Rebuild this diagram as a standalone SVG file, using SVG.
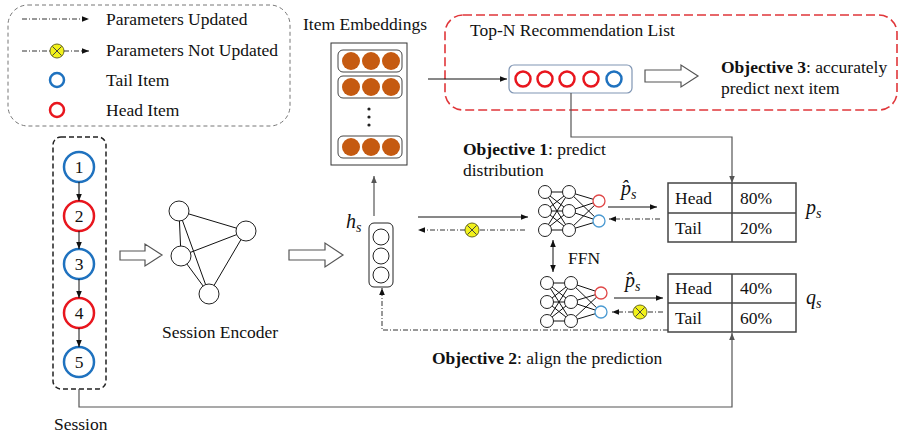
<svg xmlns="http://www.w3.org/2000/svg" width="901" height="436" viewBox="0 0 901 436">
<defs>
<marker id="ah" viewBox="0 0 10 10" refX="10" refY="5" markerWidth="7" markerHeight="7" markerUnits="userSpaceOnUse" orient="auto-start-reverse"><path d="M0,1 L10,5 L0,9 z" fill="#111"/></marker>
<marker id="ahg" viewBox="0 0 10 10" refX="10" refY="5" markerWidth="7" markerHeight="7" markerUnits="userSpaceOnUse" orient="auto-start-reverse"><path d="M0,1 L10,5 L0,9 z" fill="#555"/></marker>
<g id="xc"><circle r="7" fill="#F2F21A" stroke="#6b6b20" stroke-width="1"/><path d="M-4.5,-4.5 L4.5,4.5 M4.5,-4.5 L-4.5,4.5" stroke="#444" stroke-width="1"/></g>
</defs>
<style>
.t{font-family:"Liberation Serif","Times New Roman",serif;font-size:17.5px;fill:#111}
.b{font-weight:bold}
.m{font-family:"Liberation Serif","DejaVu Serif",serif;font-style:italic;font-size:20px;fill:#111}
.sub{font-size:14px}
.ln{stroke:#111;stroke-width:1;fill:none}
.lg{stroke:#555;stroke-width:1.2;fill:none}
.dd{stroke:#333;stroke-width:1;fill:none;stroke-dasharray:5 2 1 2}
.blue{fill:none;stroke:#1F72BF;stroke-width:2.5}
.red{fill:none;stroke:#E8161E;stroke-width:2.5}
.nn{fill:#fff;stroke:#222;stroke-width:1}
.nr{fill:#fff;stroke:#E04848;stroke-width:1.3}
.nb{fill:#fff;stroke:#4A9AD2;stroke-width:1.3}
.emb{fill:#C55A11}
.row{fill:#fff;stroke:#444;stroke-width:1}
.hollow{fill:#fff;stroke:#555;stroke-width:1.2}
.tb{fill:#fff;stroke:#444;stroke-width:1.5}
</style>

<!-- Legend -->
<g id="legend">
<rect x="8" y="5" width="282" height="121" rx="20" fill="none" stroke="#777" stroke-width="1" stroke-dasharray="4 3"/>
<line x1="22" y1="19" x2="89" y2="19" class="dd" marker-end="url(#ah)"/>
<text x="106" y="25" class="t">Parameters Updated</text>
<line x1="22" y1="51" x2="50" y2="51" class="dd"/>
<use href="#xc" x="57" y="51"/>
<line x1="64" y1="51" x2="89" y2="51" class="dd" marker-end="url(#ah)"/>
<text x="106" y="56" class="t">Parameters Not Updated</text>
<circle cx="57" cy="80" r="7" class="blue"/>
<text x="106" y="86" class="t">Tail Item</text>
<circle cx="57" cy="110" r="7" class="red"/>
<text x="106" y="116" class="t">Head Item</text>
</g>

<!-- Session -->
<g id="session">
<rect x="53" y="137" width="53" height="252" rx="8" fill="none" stroke="#222" stroke-width="1.5" stroke-dasharray="5 3"/>
<circle cx="79" cy="167" r="15" class="blue"/>
<circle cx="79" cy="216" r="15" class="red"/>
<circle cx="79" cy="264" r="15" class="blue"/>
<circle cx="79" cy="313" r="15" class="red"/>
<circle cx="79" cy="362" r="15" class="blue"/>
<text x="79" y="173" class="t" text-anchor="middle">1</text>
<text x="79" y="222" class="t" text-anchor="middle">2</text>
<text x="79" y="270" class="t" text-anchor="middle">3</text>
<text x="79" y="319" class="t" text-anchor="middle">4</text>
<text x="79" y="368" class="t" text-anchor="middle">5</text>
<line x1="79" y1="182" x2="79" y2="201" class="ln" marker-end="url(#ah)"/>
<line x1="79" y1="231" x2="79" y2="249" class="ln" marker-end="url(#ah)"/>
<line x1="79" y1="279" x2="79" y2="298" class="ln" marker-end="url(#ah)"/>
<line x1="79" y1="328" x2="79" y2="347" class="ln" marker-end="url(#ah)"/>
<text x="54" y="430" class="t">Session</text>
</g>

<!-- Session encoder -->
<g id="encoder">
<path d="M120,251 H145 V244 L162,255 L145,266 V260 H120 Z" class="hollow"/>
<g class="ln" stroke="#333">
<line x1="179" y1="211" x2="246" y2="231"/>
<line x1="179" y1="211" x2="181" y2="256"/>
<line x1="179" y1="211" x2="209" y2="294"/>
<line x1="181" y1="256" x2="246" y2="231"/>
<line x1="181" y1="256" x2="209" y2="294"/>
<line x1="246" y1="231" x2="209" y2="294"/>
</g>
<circle cx="179" cy="211" r="10" class="nn"/>
<circle cx="246" cy="231" r="10" class="nn"/>
<circle cx="181" cy="256" r="10" class="nn"/>
<circle cx="209" cy="294" r="10" class="nn"/>
<text x="162" y="338" class="t">Session Encoder</text>
</g>

<!-- h_s -->
<g id="hs">
<path d="M289,250 H325 V243 L343,255 L325,267 V260 H289 Z" class="hollow"/>
<rect x="369" y="223" width="24" height="64" rx="5" fill="#fff" stroke="#222" stroke-width="1"/>
<circle cx="381" cy="237" r="8" class="nn"/>
<circle cx="381" cy="256" r="8" class="nn"/>
<circle cx="381" cy="275" r="8" class="nn"/>
<text x="346" y="228" class="m">h<tspan class="sub" dy="4">s</tspan></text>
</g>

<!-- Item embeddings -->
<g id="item-embeddings">
<text x="303" y="30" class="t">Item Embeddings</text>
<rect x="331" y="43" width="76" height="122" fill="#fff" stroke="#333" stroke-width="1"/>
<rect x="338" y="50" width="64" height="22" rx="5" class="row"/>
<rect x="338" y="76" width="64" height="22" rx="5" class="row"/>
<rect x="338" y="136" width="64" height="22" rx="5" class="row"/>
<circle cx="351" cy="61" r="9" class="emb"/><circle cx="371" cy="61" r="9" class="emb"/><circle cx="391" cy="61" r="9" class="emb"/>
<circle cx="351" cy="87" r="9" class="emb"/><circle cx="371" cy="87" r="9" class="emb"/><circle cx="391" cy="87" r="9" class="emb"/>
<circle cx="351" cy="147" r="9" class="emb"/><circle cx="371" cy="147" r="9" class="emb"/><circle cx="391" cy="147" r="9" class="emb"/>
<circle cx="369" cy="109" r="1.6" fill="#222"/><circle cx="369" cy="117" r="1.6" fill="#222"/><circle cx="369" cy="125" r="1.6" fill="#222"/>
</g>

<!-- Top-N -->
<g id="topn">
<rect x="445" y="15" width="452" height="95" rx="18" fill="none" stroke="#E0363A" stroke-width="1.6" stroke-dasharray="9 4"/>
<text x="470" y="36" class="t">Top-N Recommendation List</text>
<rect x="509" y="65" width="123" height="28" rx="5" fill="#fff" stroke="#8096B4" stroke-width="1.2"/>
<circle cx="523" cy="79" r="7.5" class="red"/>
<circle cx="545" cy="79" r="7.5" class="red"/>
<circle cx="567" cy="79" r="7.5" class="red"/>
<circle cx="591" cy="79" r="7.5" class="red"/>
<circle cx="614" cy="79" r="7.5" class="blue"/>
<path d="M645,70 H681 V65 L698,76 L681,87 V82 H645 Z" class="hollow"/>
<text x="721" y="73" class="t"><tspan class="b">Objective 3</tspan>: accurately</text>
<text x="721" y="94" class="t">predict next item</text>
</g>

<!-- FFN networks -->
<g id="ffn1">
<g class="ln" stroke="#222" stroke-width="0.9">
<path d="M545,192 L569,192 M545,192 L569,211 M545,192 L569,230 M545,211 L569,192 M545,211 L569,211 M545,211 L569,230 M545,230 L569,192 M545,230 L569,211 M545,230 L569,230"/>
<path d="M569,192 L599,201 M569,192 L599,221 M569,211 L599,201 M569,211 L599,221 M569,230 L599,201 M569,230 L599,221"/>
</g>
<circle cx="545" cy="192" r="6.5" class="nn"/><circle cx="545" cy="211" r="6.5" class="nn"/><circle cx="545" cy="230" r="6.5" class="nn"/>
<circle cx="569" cy="192" r="6.5" class="nn"/><circle cx="569" cy="211" r="6.5" class="nn"/><circle cx="569" cy="230" r="6.5" class="nn"/>
<circle cx="599" cy="201" r="6" class="nr"/><circle cx="599" cy="221" r="6" class="nb"/>
</g>
<g id="ffn2">
<g class="ln" stroke="#222" stroke-width="0.9">
<path d="M547,283 L571,283 M547,283 L571,302 M547,283 L571,321 M547,302 L571,283 M547,302 L571,302 M547,302 L571,321 M547,321 L571,283 M547,321 L571,302 M547,321 L571,321"/>
<path d="M571,283 L601,293 M571,283 L601,312 M571,302 L601,293 M571,302 L601,312 M571,321 L601,293 M571,321 L601,312"/>
</g>
<circle cx="547" cy="283" r="6.5" class="nn"/><circle cx="547" cy="302" r="6.5" class="nn"/><circle cx="547" cy="321" r="6.5" class="nn"/>
<circle cx="571" cy="283" r="6.5" class="nn"/><circle cx="571" cy="302" r="6.5" class="nn"/><circle cx="571" cy="321" r="6.5" class="nn"/>
<circle cx="601" cy="293" r="6" class="nr"/><circle cx="601" cy="312" r="6" class="nb"/>
</g>
<text x="568" y="264" class="t">FFN</text>

<!-- Tables -->
<g id="table-p">
<rect x="668" y="183" width="128" height="59" class="tb"/>
<line x1="668" y1="213" x2="796" y2="213" stroke="#444" stroke-width="1.5"/>
<line x1="732" y1="183" x2="732" y2="242" stroke="#444" stroke-width="1.5"/>
<text x="675" y="204" class="t">Head</text><text x="740" y="204" class="t">80%</text>
<text x="675" y="234" class="t">Tail</text><text x="740" y="234" class="t">20%</text>
<text x="806" y="214" class="m">p<tspan class="sub" dy="4">s</tspan></text>
</g>
<g id="table-q">
<rect x="668" y="274" width="128" height="58" class="tb"/>
<line x1="668" y1="303" x2="796" y2="303" stroke="#444" stroke-width="1.5"/>
<line x1="732" y1="274" x2="732" y2="332" stroke="#444" stroke-width="1.5"/>
<text x="675" y="294" class="t">Head</text><text x="740" y="294" class="t">40%</text>
<text x="675" y="324" class="t">Tail</text><text x="740" y="324" class="t">60%</text>
<text x="806" y="304" class="m">q<tspan class="sub" dy="4">s</tspan></text>
</g>

<!-- Objective labels -->
<text x="463" y="155" class="t"><tspan class="b">Objective 1</tspan>: predict</text>
<text x="463" y="176" class="t">distribution</text>
<text x="432" y="364" class="t"><tspan class="b">Objective 2</tspan>: align the prediction</text>
<text x="621" y="195" class="m">p̂<tspan class="sub" dy="4">s</tspan></text>
<text x="625" y="287" class="m">p̂<tspan class="sub" dy="4">s</tspan></text>

<!-- Connectors -->
<g id="connectors">
<line x1="374" y1="216" x2="374" y2="176" class="lg" marker-end="url(#ahg)"/>
<line x1="428" y1="79" x2="507" y2="79" class="ln" marker-end="url(#ah)"/>
<polyline points="571,93 571,137 732,137 732,183" class="lg" marker-end="url(#ahg)"/>
<line x1="418" y1="217" x2="528" y2="217" class="ln" marker-end="url(#ah)"/>
<line x1="525" y1="230" x2="479" y2="230" class="dd"/>
<use href="#xc" x="472" y="230"/>
<line x1="465" y1="230" x2="418" y2="230" class="dd" marker-end="url(#ah)"/>
<line x1="608" y1="207" x2="657" y2="207" class="ln" marker-end="url(#ah)"/>
<line x1="660" y1="219" x2="609" y2="219" class="dd" marker-end="url(#ah)"/>
<line x1="553" y1="240" x2="553" y2="272" class="ln" marker-start="url(#ah)" marker-end="url(#ah)"/>
<line x1="614" y1="298" x2="663" y2="298" class="ln" marker-end="url(#ah)"/>
<line x1="663" y1="312" x2="647" y2="312" class="dd"/>
<use href="#xc" x="640" y="312"/>
<line x1="633" y1="312" x2="612" y2="312" class="dd" marker-end="url(#ah)"/>
<polyline points="668,330 382,330 382,288" class="dd" marker-end="url(#ah)"/>
<polyline points="79,389 79,407 732,407 732,333" class="lg" marker-end="url(#ahg)"/>
</g>
</svg>
